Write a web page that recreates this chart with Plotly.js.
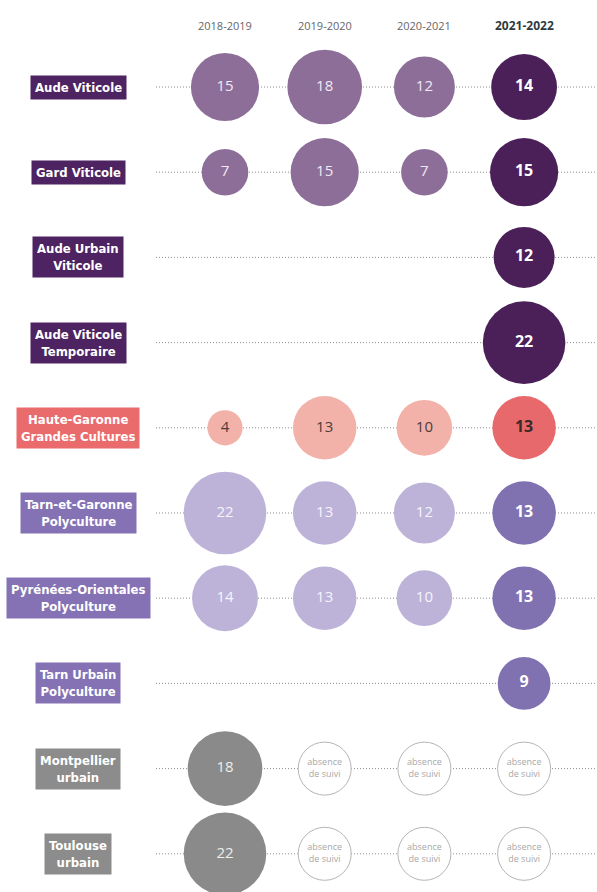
<!DOCTYPE html>
<html>
<head>
<meta charset="utf-8">
<script src="https://cdn.plot.ly/plotly-3.0.1.min.js"></script>
<style>html,body{margin:0;padding:0;background:#fff;}#chart{width:597px;height:892px;}</style>
</head>
<body>
<div id="chart"></div>
<script>
// ---- data ----
const seasons = ['2018-2019', '2019-2020', '2020-2021', '2021-2022'];
const sites = [
  'Aude Viticole',
  'Gard Viticole',
  'Aude Urbain<br>Viticole',
  'Aude Viticole<br>Temporaire',
  'Haute-Garonne<br>Grandes Cultures',
  'Tarn-et-Garonne<br>Polyculture',
  'Pyrénées-Orientales<br>Polyculture',
  'Tarn Urbain<br>Polyculture',
  'Montpellier<br>urbain',
  'Toulouse<br>urbain'
];
const groups = ['viti', 'viti', 'viti', 'viti', 'gc', 'poly', 'poly', 'poly', 'urb', 'urb'];
const v2018 = [15, 7, null, null, 4, 22, 14, null, 18, 22];
const v2019 = [18, 15, null, null, 13, 13, 13, null, null, null];
const v2020 = [12, 7, null, null, 10, 12, 10, null, null, null];
const v2021 = [14, 15, 12, 22, 13, 13, 13, 9, null, null];
// 1 = "absence de suivi"
const abs2018 = [0, 0, 0, 0, 0, 0, 0, 0, 0, 0];
const abs2019 = [0, 0, 0, 0, 0, 0, 0, 0, 1, 1];
const abs2020 = [0, 0, 0, 0, 0, 0, 0, 0, 1, 1];
const abs2021 = [0, 0, 0, 0, 0, 0, 0, 0, 1, 1];

// ---- styles ----
const labelColor = {viti: '#4e2361', gc: '#e96b6c', poly: '#8472b5', urb: '#8c8c8c'};
const oldColor = {viti: '#8d6e99', gc: '#f3b2a9', poly: '#bdb3d9', urb: '#8a8a8a'};
const newColor = {viti: '#4b2059', gc: '#e8696b', poly: '#8071b0', urb: '#8a8a8a'};
const oldText = {viti: '#f1e9f3', gc: '#4d3b3b', poly: '#f6f3fb', urb: '#eeeeee'};
const newText = {viti: '#ffffff', gc: '#3a2a2a', poly: '#ffffff', urb: '#ffffff'};

const allVals = [v2018, v2019, v2020, v2021];
const allAbs = [abs2018, abs2019, abs2020, abs2021];
const SIZEREF = 1 / (2 * 8.8 * 8.8);

const traces = [];
allVals.forEach((vals, si) => {
  const last = si === seasons.length - 1;
  const xs = [], ys = [], s = [], c = [], tc = [], tx = [];
  vals.forEach((v, i) => {
    if (v === null) return;
    xs.push(seasons[si]); ys.push(sites[i]); s.push(v);
    c.push((last ? newColor : oldColor)[groups[i]]);
    tc.push((last ? newText : oldText)[groups[i]]);
    tx.push(String(v));
  });
  traces.push({
    type: 'scatter', mode: 'markers+text', x: xs, y: ys, text: tx,
    textposition: 'middle center', hoverinfo: 'skip', cliponaxis: false,
    marker: {size: s, sizemode: 'area', sizeref: SIZEREF, color: c, line: {width: 0}, opacity: 1},
    textfont: {family: 'Open Sans, sans-serif', size: last ? 16 : 15, color: tc, weight: last ? 'bold' : 'normal'}
  });
});
// absence de suivi
{
  const xs = [], ys = [];
  allAbs.forEach((a, si) => a.forEach((f, i) => { if (f) { xs.push(seasons[si]); ys.push(sites[i]); } }));
  traces.push({
    type: 'scatter', mode: 'markers+text', x: xs, y: ys,
    text: xs.map(() => 'absence<br>de suivi'), textposition: 'middle center', hoverinfo: 'skip', cliponaxis: false,
    marker: {size: 53, color: '#ffffff', line: {width: 1, color: '#b5b5b5'}},
    textfont: {family: 'Open Sans, sans-serif', size: 9, color: '#a8a8a8'}
  });
}

// ---- layout ----
const W = 597, H = 892;
const colX0 = 225, colStep = 99.7;
const rowY0 = 87, rowStep = 85.2;
const xr0 = -colX0 / colStep, xr1 = xr0 + W / colStep;
const yTop = -rowY0 / rowStep, yBot = yTop + H / rowStep;

const shapes = sites.map((s, i) => ({
  type: 'line', layer: 'below', xref: 'paper', yref: 'y',
  x0: 156 / W, x1: 1, y0: i, y1: i,
  line: {color: '#8f8f8f', width: 1, dash: '1px,2px'}
}));

const annotations = [];
seasons.forEach((s, si) => {
  const last = si === seasons.length - 1;
  annotations.push({
    xref: 'x', yref: 'paper', x: s, y: 1 - 25 / H, text: s, showarrow: false,
    xanchor: 'center', yanchor: 'middle',
    font: {family: 'Open Sans, sans-serif', size: last ? 12 : 11, color: last ? '#2f3a40' : '#666666', weight: last ? 'bold' : 'normal'}
  });
});
sites.forEach((s, i) => {
  annotations.push({
    xref: 'paper', yref: 'y', x: 78 / W, y: i, text: s, showarrow: false,
    xanchor: 'center', yanchor: 'middle', align: 'center',
    bgcolor: labelColor[groups[i]], borderpad: 4,
    font: {family: 'Liberation Sans Narrow, Arial Narrow, DejaVu Sans Condensed, sans-serif', size: 13, color: '#ffffff', weight: 'bold'}
  });
});

const layout = {
  width: W, height: H, margin: {l: 0, r: 0, t: 0, b: 0},
  paper_bgcolor: '#ffffff', plot_bgcolor: '#ffffff', showlegend: false,
  xaxis: {type: 'category', categoryorder: 'array', categoryarray: seasons, range: [xr0, xr1],
    visible: false, fixedrange: true},
  yaxis: {type: 'category', categoryorder: 'array', categoryarray: sites, range: [yBot, yTop],
    visible: false, fixedrange: true},
  shapes: shapes, annotations: annotations
};

Plotly.newPlot('chart', traces, layout, {displayModeBar: false, staticPlot: true});
</script>
</body>
</html>
